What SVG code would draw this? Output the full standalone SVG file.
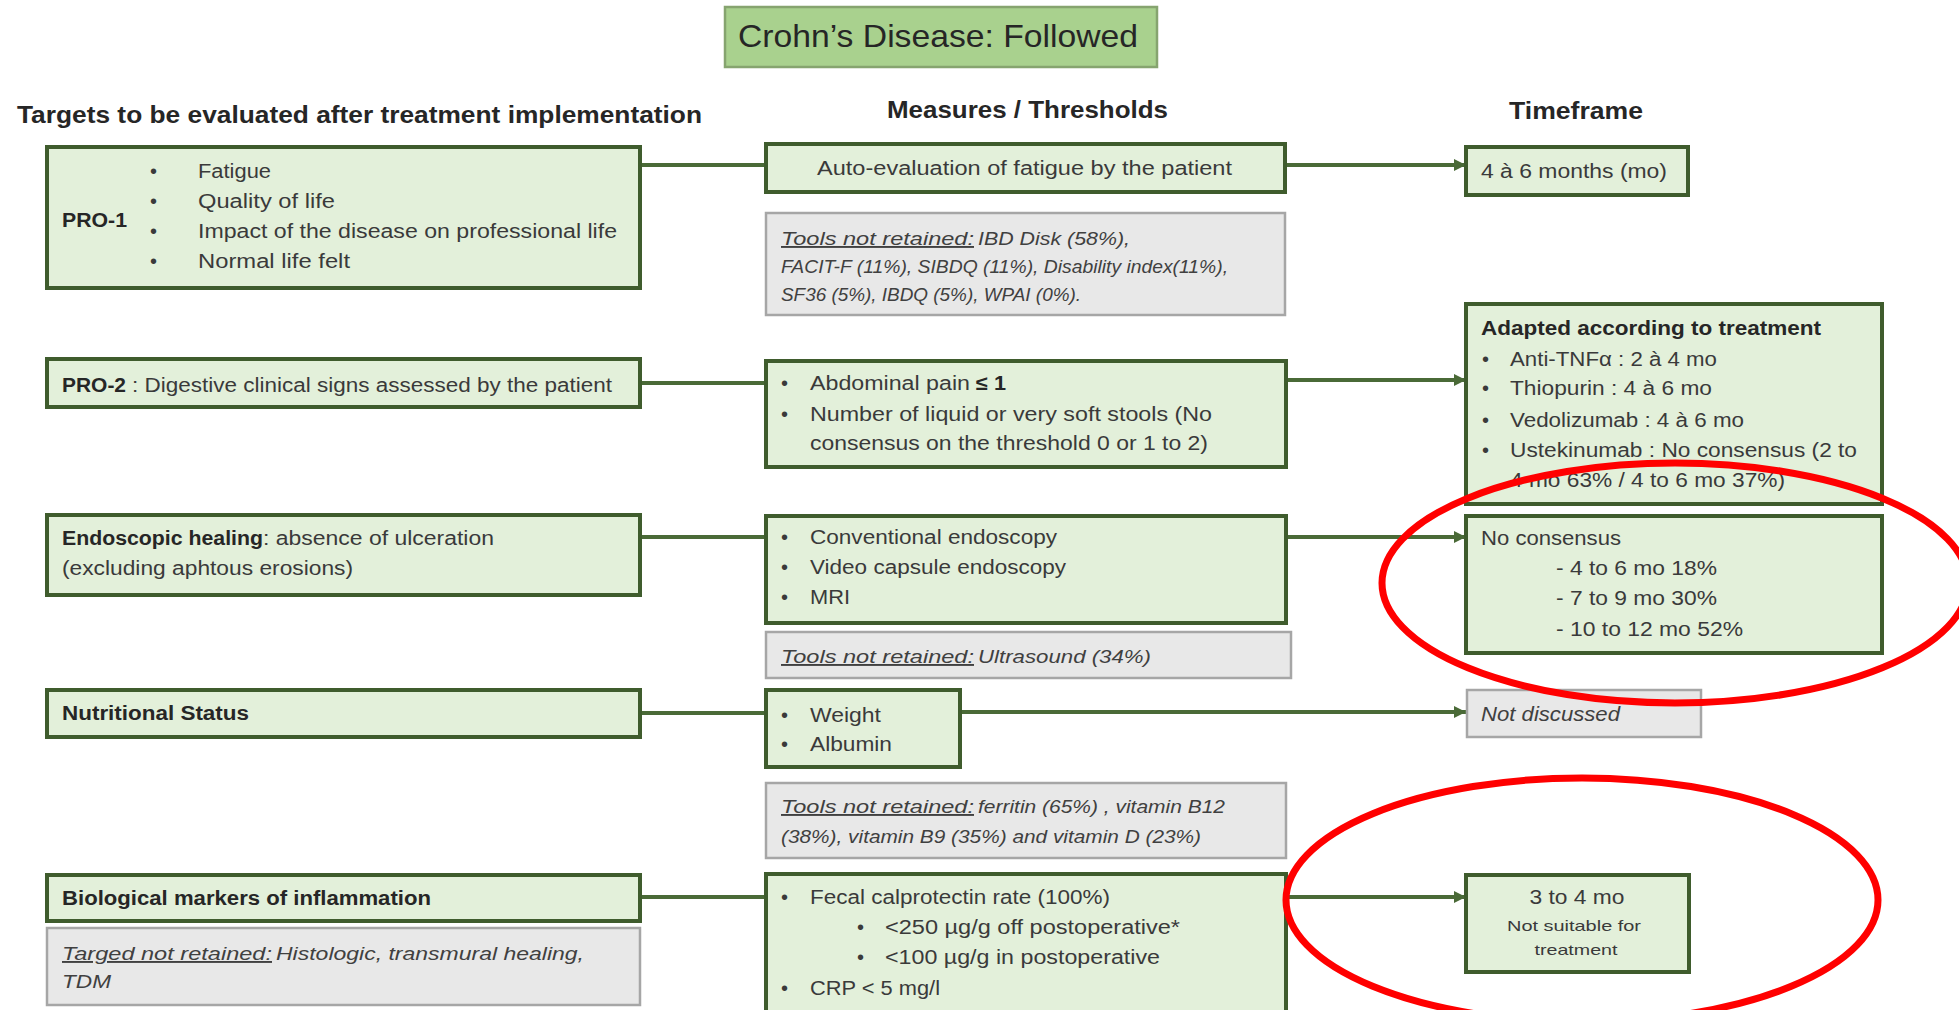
<svg xmlns="http://www.w3.org/2000/svg" width="1959" height="1010" viewBox="0 0 1959 1010">
<defs>
<style>
.box{fill:#e3f0da;stroke:#3f5c2d;stroke-width:4}
.gbox{fill:#e8e8e8;stroke:#a6a6a6;stroke-width:2.5}
.title{fill:#a9d18e;stroke:#86a46f;stroke-width:2.5}
text{font-family:"Liberation Sans",Arial,sans-serif;font-size:20px;fill:#3a3a3a}
.b{font-weight:bold;fill:#262626}
.h{font-weight:bold;font-size:24px;fill:#262626}
.i{font-style:italic;font-size:19px;fill:#404040}
.u{text-decoration:underline}
.s{font-size:15px}
.conn{stroke:#4a6a37;stroke-width:4;fill:none}
.red{fill:none;stroke:#ff0000;stroke-width:7}
</style>
<marker id="arr" markerUnits="userSpaceOnUse" markerWidth="12" markerHeight="12" refX="12" refY="6" orient="auto">
<path d="M0,0 L12,6 L0,12 z" fill="#4a6a37"/>
</marker>
</defs>
<rect width="1959" height="1010" fill="#ffffff"/>

<g id="title-node">
<rect class="title" x="725" y="7" width="432" height="60"/>
<text x="738" y="47" style="font-size:32px;fill:#262626" textLength="400" lengthAdjust="spacingAndGlyphs">Crohn’s Disease: Followed</text>
</g>

<g id="headers">
<text class="h" x="17" y="123" textLength="685" lengthAdjust="spacingAndGlyphs">Targets to be evaluated after treatment implementation</text>
<text class="h" x="887" y="118" textLength="281" lengthAdjust="spacingAndGlyphs">Measures / Thresholds</text>
<text class="h" x="1509" y="119" textLength="134" lengthAdjust="spacingAndGlyphs">Timeframe</text>
</g>

<g id="connectors">
<path class="conn" d="M640,165 H766"/>
<path class="conn" d="M1285,165 H1466" marker-end="url(#arr)"/>
<path class="conn" d="M640,383 H766"/>
<path class="conn" d="M1286,380 H1466" marker-end="url(#arr)"/>
<path class="conn" d="M640,537 H766"/>
<path class="conn" d="M1286,537 H1466" marker-end="url(#arr)"/>
<path class="conn" d="M640,713 H766"/>
<path class="conn" d="M960,712 H1466" marker-end="url(#arr)"/>
<path class="conn" d="M640,897 H766"/>
<path class="conn" d="M1286,897 H1466" marker-end="url(#arr)"/>
</g>

<g id="pro1">
<rect class="box" x="47" y="147" width="593" height="141"/>
<text class="b" x="62" y="227" textLength="65" lengthAdjust="spacingAndGlyphs">PRO-1</text>
<text x="150" y="178">•</text>
<text x="150" y="208">•</text>
<text x="150" y="238">•</text>
<text x="150" y="268">•</text>
<text x="198" y="178" textLength="73" lengthAdjust="spacingAndGlyphs">Fatigue</text>
<text x="198" y="208" textLength="137" lengthAdjust="spacingAndGlyphs">Quality of life</text>
<text x="198" y="238" textLength="419" lengthAdjust="spacingAndGlyphs">Impact of the disease on professional life</text>
<text x="198" y="268" textLength="152" lengthAdjust="spacingAndGlyphs">Normal  life felt</text>
</g>

<g id="auto-eval">
<rect class="box" x="766" y="144" width="519" height="48"/>
<text x="817" y="175" textLength="415" lengthAdjust="spacingAndGlyphs">Auto-evaluation of fatigue by the patient</text>
</g>

<g id="tools-pro1">
<rect class="gbox" x="766" y="213" width="519" height="102"/>
<text class="i u" x="781" y="245" textLength="193" lengthAdjust="spacingAndGlyphs">Tools not retained:</text>
<text class="i" x="978" y="245" textLength="152" lengthAdjust="spacingAndGlyphs">IBD Disk (58%),</text>
<text class="i" x="781" y="273" textLength="447" lengthAdjust="spacingAndGlyphs">FACIT-F (11%), SIBDQ (11%), Disability index(11%),</text>
<text class="i" x="781" y="301" textLength="300" lengthAdjust="spacingAndGlyphs">SF36 (5%), IBDQ (5%), WPAI (0%).</text>
</g>

<g id="tf-pro1">
<rect class="box" x="1466" y="147" width="222" height="48"/>
<text x="1481" y="178" textLength="186" lengthAdjust="spacingAndGlyphs">4 à 6 months (mo)</text>
</g>

<g id="tf-pro2">
<rect class="box" x="1466" y="304" width="416" height="200"/>
<text class="b" x="1481" y="335" textLength="340" lengthAdjust="spacingAndGlyphs">Adapted according to treatment</text>
<text x="1482" y="366">•</text>
<text x="1482" y="395">•</text>
<text x="1482" y="427">•</text>
<text x="1482" y="457">•</text>
<text x="1510" y="366" textLength="207" lengthAdjust="spacingAndGlyphs">Anti-TNFα : 2 à 4 mo</text>
<text x="1510" y="395" textLength="202" lengthAdjust="spacingAndGlyphs">Thiopurin : 4 à 6 mo</text>
<text x="1510" y="427" textLength="234" lengthAdjust="spacingAndGlyphs">Vedolizumab : 4 à 6 mo</text>
<text x="1510" y="457" textLength="347" lengthAdjust="spacingAndGlyphs">Ustekinumab : No consensus (2 to</text>
<text x="1510" y="487" textLength="275" lengthAdjust="spacingAndGlyphs">4 mo 63% / 4 to 6 mo 37%)</text>
</g>

<g id="pro2">
<rect class="box" x="47" y="359" width="593" height="48"/>
<text class="b" x="62" y="392" textLength="64" lengthAdjust="spacingAndGlyphs">PRO-2</text>
<text x="132" y="392" textLength="480" lengthAdjust="spacingAndGlyphs">: Digestive clinical signs assessed by the patient</text>
</g>

<g id="abdominal">
<rect class="box" x="766" y="361" width="520" height="106"/>
<text x="781" y="390">•</text>
<text x="781" y="421">•</text>
<text x="810" y="390" textLength="160" lengthAdjust="spacingAndGlyphs">Abdominal pain</text>
<text class="b" x="976" y="390" textLength="30" lengthAdjust="spacingAndGlyphs">≤ 1</text>
<text x="810" y="421" textLength="402" lengthAdjust="spacingAndGlyphs">Number of liquid or very soft stools (No</text>
<text x="810" y="450" textLength="398" lengthAdjust="spacingAndGlyphs">consensus on the threshold 0 or 1 to 2)</text>
</g>

<g id="endoscopic">
<rect class="box" x="47" y="515" width="593" height="80"/>
<text class="b" x="62" y="545" textLength="201" lengthAdjust="spacingAndGlyphs">Endoscopic healing</text>
<text x="263" y="545" textLength="231" lengthAdjust="spacingAndGlyphs">: absence of ulceration</text>
<text x="62" y="575" textLength="291" lengthAdjust="spacingAndGlyphs">(excluding aphtous erosions)</text>
</g>

<g id="endo-tools">
<rect class="box" x="766" y="516" width="520" height="107"/>
<text x="781" y="544">•</text>
<text x="781" y="574">•</text>
<text x="781" y="604">•</text>
<text x="810" y="544" textLength="247" lengthAdjust="spacingAndGlyphs">Conventional endoscopy</text>
<text x="810" y="574" textLength="256" lengthAdjust="spacingAndGlyphs">Video capsule endoscopy</text>
<text x="810" y="604" textLength="40" lengthAdjust="spacingAndGlyphs">MRI</text>
</g>

<g id="tf-endo">
<rect class="box" x="1466" y="516" width="416" height="137"/>
<text x="1481" y="545" textLength="140" lengthAdjust="spacingAndGlyphs">No consensus</text>
<text x="1556" y="575" textLength="161" lengthAdjust="spacingAndGlyphs">- 4 to 6 mo 18%</text>
<text x="1556" y="605" textLength="161" lengthAdjust="spacingAndGlyphs">- 7 to 9 mo 30%</text>
<text x="1556" y="636" textLength="187" lengthAdjust="spacingAndGlyphs">- 10 to 12 mo 52%</text>
</g>

<g id="tools-endo">
<rect class="gbox" x="766" y="632" width="525" height="46"/>
<text class="i u" x="781" y="663" textLength="193" lengthAdjust="spacingAndGlyphs">Tools not retained:</text>
<text class="i" x="978" y="663" textLength="173" lengthAdjust="spacingAndGlyphs">Ultrasound (34%)</text>
</g>

<g id="nutritional">
<rect class="box" x="47" y="690" width="593" height="47"/>
<text class="b" x="62" y="720" textLength="187" lengthAdjust="spacingAndGlyphs">Nutritional Status</text>
</g>

<g id="weight">
<rect class="box" x="766" y="690" width="194" height="77"/>
<text x="781" y="722">•</text>
<text x="781" y="751">•</text>
<text x="810" y="722" textLength="71" lengthAdjust="spacingAndGlyphs">Weight</text>
<text x="810" y="751" textLength="82" lengthAdjust="spacingAndGlyphs">Albumin</text>
</g>

<g id="tf-nutri">
<rect class="gbox" x="1467" y="690" width="234" height="47"/>
<text class="i" x="1481" y="721" style="font-size:20px" textLength="139" lengthAdjust="spacingAndGlyphs">Not discussed</text>
</g>

<g id="tools-nutri">
<rect class="gbox" x="766" y="783" width="520" height="75"/>
<text class="i u" x="781" y="813" textLength="193" lengthAdjust="spacingAndGlyphs">Tools not retained:</text>
<text class="i" x="978" y="813" textLength="247" lengthAdjust="spacingAndGlyphs">ferritin (65%) , vitamin B12</text>
<text class="i" x="781" y="843" textLength="420" lengthAdjust="spacingAndGlyphs">(38%), vitamin B9 (35%) and vitamin D (23%)</text>
</g>

<g id="biological">
<rect class="box" x="47" y="875" width="593" height="46"/>
<text class="b" x="62" y="905" textLength="369" lengthAdjust="spacingAndGlyphs">Biological markers of inflammation</text>
</g>

<g id="targets-not-retained">
<rect class="gbox" x="47" y="928" width="593" height="77"/>
<text class="i u" x="62" y="960" textLength="210" lengthAdjust="spacingAndGlyphs">Targed not retained:</text>
<text class="i" x="276" y="960" textLength="308" lengthAdjust="spacingAndGlyphs">Histologic, transmural healing,</text>
<text class="i" x="62" y="988" textLength="49" lengthAdjust="spacingAndGlyphs">TDM</text>
</g>

<g id="bio-tools">
<rect class="box" x="766" y="874" width="520" height="160"/>
<text x="781" y="904">•</text>
<text x="857" y="934">•</text>
<text x="857" y="964">•</text>
<text x="781" y="995">•</text>
<text x="810" y="904" textLength="300" lengthAdjust="spacingAndGlyphs">Fecal calprotectin rate (100%)</text>
<text x="885" y="934" textLength="295" lengthAdjust="spacingAndGlyphs">&lt;250 µg/g off postoperative*</text>
<text x="885" y="964" textLength="275" lengthAdjust="spacingAndGlyphs">&lt;100 µg/g in postoperative</text>
<text x="810" y="995" textLength="130" lengthAdjust="spacingAndGlyphs">CRP &lt; 5 mg/l</text>
</g>

<g id="tf-bio">
<rect class="box" x="1466" y="875" width="223" height="97"/>
<text x="1577" y="904" text-anchor="middle" textLength="95" lengthAdjust="spacingAndGlyphs">3 to 4 mo</text>
<text class="s" x="1574" y="931" text-anchor="middle" textLength="134" lengthAdjust="spacingAndGlyphs">Not suitable for</text>
<text class="s" x="1576" y="955" text-anchor="middle" textLength="83" lengthAdjust="spacingAndGlyphs">treatment</text>
</g>

<g id="highlights">
<ellipse class="red" cx="1675" cy="583" rx="293" ry="120"/>
<ellipse class="red" cx="1582" cy="900" rx="296" ry="122"/>
</g>
</svg>
